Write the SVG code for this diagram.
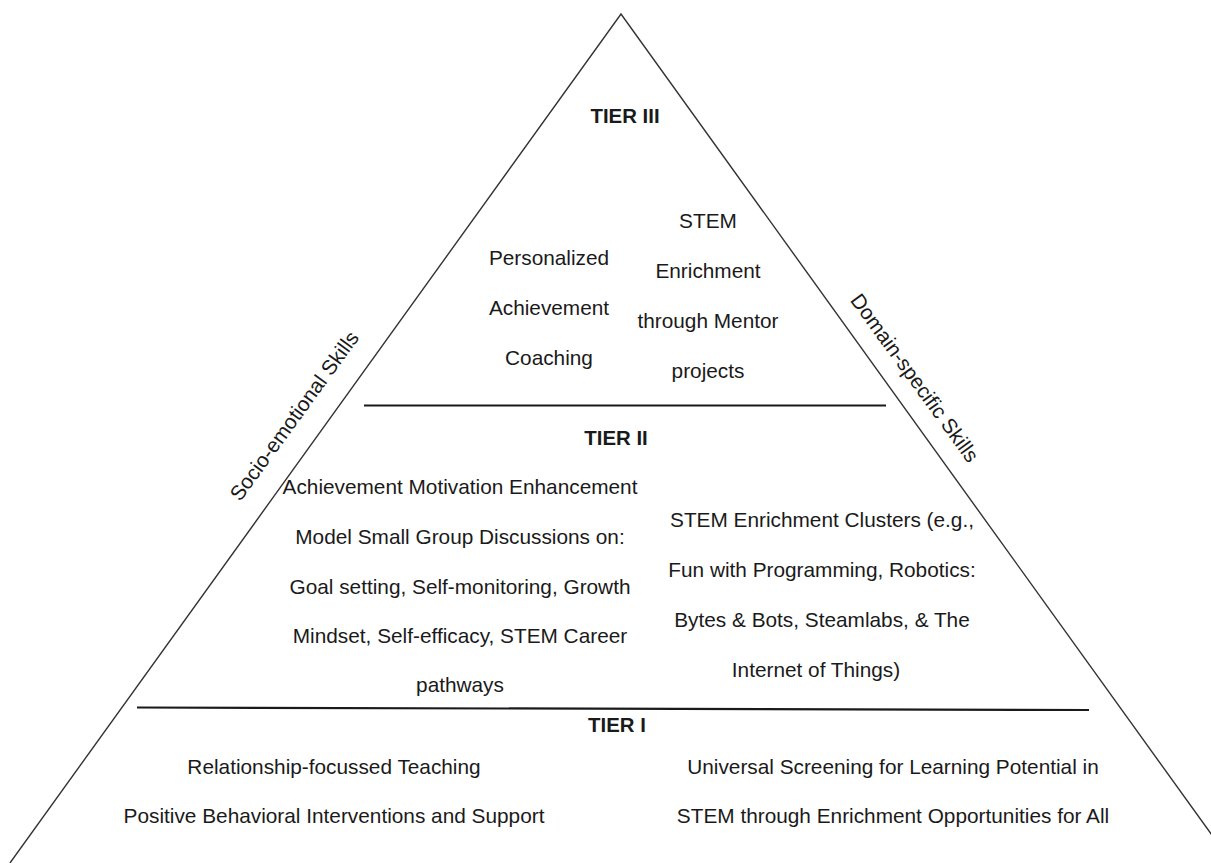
<svg xmlns="http://www.w3.org/2000/svg" width="1211" height="863" viewBox="0 0 1211 863">
<style>
.t{font-family:"Liberation Sans",Arial,sans-serif;font-size:20.8px;fill:#1a1a1a;text-anchor:middle}
.h{font-weight:bold;font-size:20.4px}
.edge{fill:none;stroke:#333;stroke-width:1.4}
.div{stroke:#1a1a1a;stroke-width:2.2}
</style>
<rect width="1211" height="863" fill="#fff"/>
<g id="connectors">
<polyline class="edge" points="10,863 621,14 1232,863"/>
<line class="div" x1="364" y1="405.5" x2="886" y2="405.5"/>
<line class="div" x1="137" y1="707.5" x2="1089" y2="710"/>
</g>
<g id="side-left"><text class="t" transform="translate(300,420) rotate(-54)">Socio-emotional Skills</text></g>
<g id="side-right"><text class="t" transform="translate(909,382) rotate(54)">Domain-specific Skills</text></g>
<g id="tier3">
<text class="t h" x="625" y="123">TIER III</text>
<text class="t" x="549" y="265">Personalized</text>
<text class="t" x="549" y="315">Achievement</text>
<text class="t" x="549" y="365">Coaching</text>
<text class="t" x="708" y="228">STEM</text>
<text class="t" x="708" y="278">Enrichment</text>
<text class="t" x="708" y="328">through Mentor</text>
<text class="t" x="708" y="378">projects</text>
</g>
<g id="tier2">
<text class="t h" x="616" y="445">TIER II</text>
<text class="t" x="460" y="494">Achievement Motivation Enhancement</text>
<text class="t" x="460" y="544">Model Small Group Discussions on:</text>
<text class="t" x="460" y="594">Goal setting, Self-monitoring, Growth</text>
<text class="t" x="460" y="643">Mindset, Self-efficacy, STEM Career</text>
<text class="t" x="460" y="692">pathways</text>
<text class="t" x="822" y="527">STEM Enrichment Clusters (e.g.,</text>
<text class="t" x="822" y="577">Fun with Programming, Robotics:</text>
<text class="t" x="822" y="627">Bytes &amp; Bots, Steamlabs, &amp; The</text>
<text class="t" x="816" y="677">Internet of Things)</text>
</g>
<g id="tier1">
<text class="t h" x="617" y="732">TIER I</text>
<text class="t" x="334" y="774">Relationship-focussed Teaching</text>
<text class="t" x="334" y="823">Positive Behavioral Interventions and Support</text>
<text class="t" x="893" y="774">Universal Screening for Learning Potential in</text>
<text class="t" x="893" y="823">STEM through Enrichment Opportunities for All</text>
</g>
</svg>
